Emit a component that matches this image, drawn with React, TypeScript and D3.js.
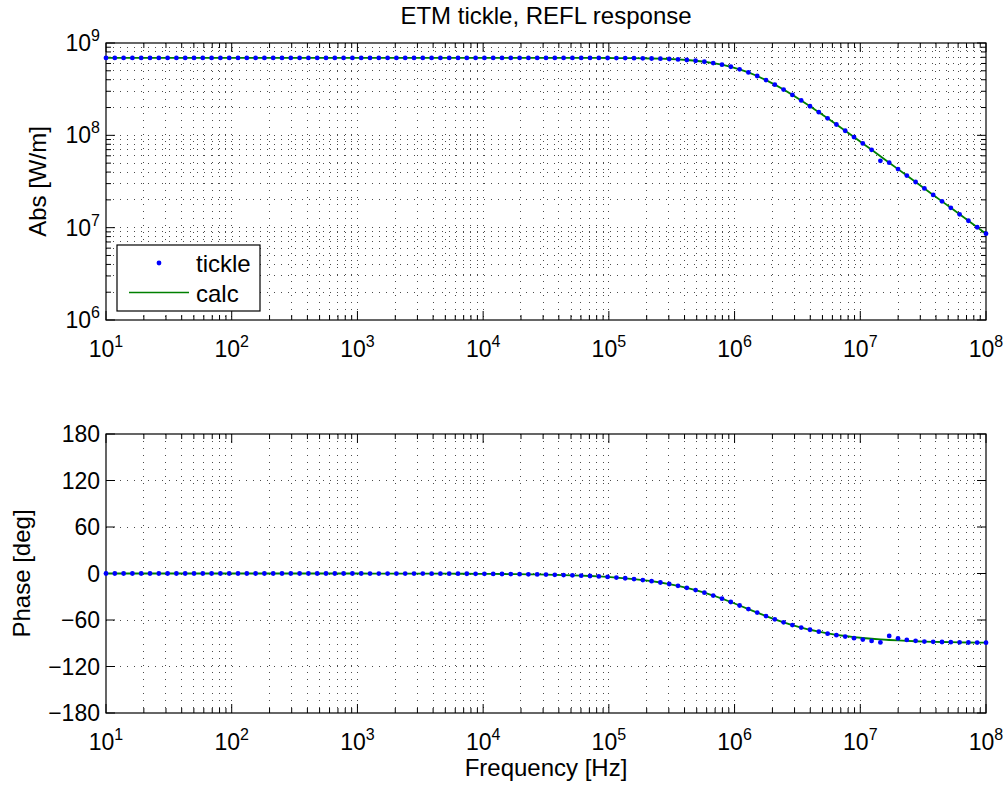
import React, { Component } from "react";
import * as d3 from "d3";

// log10 of the frequency of every sample (tickle and calc share them)
const freqExp = [
  1.00, 1.07, 1.14, 1.21, 1.28, 1.35, 1.42, 1.49, 1.56, 1.63, 1.70, 1.77, 1.84, 1.91, 1.98,
  2.05, 2.12, 2.19, 2.26, 2.33, 2.40, 2.47, 2.54, 2.61, 2.68, 2.75, 2.82, 2.89, 2.96,
  3.03, 3.10, 3.17, 3.24, 3.31, 3.38, 3.45, 3.52, 3.59, 3.66, 3.73, 3.80, 3.87, 3.94,
  4.01, 4.08, 4.15, 4.22, 4.29, 4.36, 4.43, 4.50, 4.57, 4.64, 4.71, 4.78, 4.85, 4.92, 4.99,
  5.06, 5.13, 5.20, 5.27, 5.34, 5.41, 5.48, 5.55, 5.62, 5.69, 5.76, 5.83, 5.90, 5.97,
  6.04, 6.11, 6.18, 6.25, 6.32, 6.39, 6.46, 6.53, 6.60, 6.67, 6.74, 6.81, 6.88, 6.95,
  7.02, 7.09, 7.16, 7.23, 7.30, 7.37, 7.44, 7.51, 7.58, 7.65, 7.72, 7.79, 7.86, 7.93, 8.00,
];

// |H| in W/m
const calcMag = [
  6.9e8, 6.9e8, 6.9e8, 6.9e8, 6.9e8, 6.9e8, 6.9e8, 6.9e8, 6.9e8, 6.9e8, 6.9e8, 6.9e8, 6.9e8, 6.9e8, 6.9e8,
  6.9e8, 6.9e8, 6.9e8, 6.9e8, 6.9e8, 6.9e8, 6.9e8, 6.9e8, 6.9e8, 6.9e8, 6.9e8, 6.9e8, 6.9e8, 6.9e8,
  6.9e8, 6.9e8, 6.9e8, 6.9e8, 6.9e8, 6.9e8, 6.9e8, 6.9e8, 6.9e8, 6.9e8, 6.9e8, 6.9e8, 6.9e8, 6.9e8,
  6.9e8, 6.9e8, 6.9e8, 6.9e8, 6.9e8, 6.9e8, 6.9e8, 6.9e8, 6.897e8, 6.896e8, 6.894e8, 6.892e8, 6.889e8, 6.885e8, 6.879e8,
  6.871e8, 6.860e8, 6.845e8, 6.825e8, 6.797e8, 6.759e8, 6.707e8, 6.638e8, 6.545e8, 6.424e8, 6.267e8, 6.069e8, 5.823e8, 5.528e8,
  5.186e8, 4.804e8, 4.391e8, 3.965e8, 3.540e8, 3.130e8, 2.742e8, 2.386e8, 2.065e8, 1.780e8, 1.529e8, 1.310e8, 1.121e8, 9.572e7,
  8.168e7, 6.965e7, 5.937e7, 5.056e7, 4.307e7, 3.669e7, 3.123e7, 2.659e7, 2.263e7, 1.927e7, 1.640e7, 1.396e7, 1.188e7, 1.011e7, 8.605e6,
];
const tickleMag = [
  6.9e8, 6.9e8, 6.9e8, 6.9e8, 6.9e8, 6.9e8, 6.9e8, 6.9e8, 6.9e8, 6.9e8, 6.9e8, 6.9e8, 6.9e8, 6.9e8, 6.9e8,
  6.9e8, 6.9e8, 6.9e8, 6.9e8, 6.9e8, 6.9e8, 6.9e8, 6.9e8, 6.9e8, 6.9e8, 6.9e8, 6.9e8, 6.9e8, 6.9e8,
  6.9e8, 6.9e8, 6.9e8, 6.9e8, 6.9e8, 6.9e8, 6.9e8, 6.9e8, 6.9e8, 6.9e8, 6.9e8, 6.9e8, 6.9e8, 6.9e8,
  6.9e8, 6.9e8, 6.9e8, 6.9e8, 6.9e8, 6.9e8, 6.9e8, 6.9e8, 6.897e8, 6.896e8, 6.894e8, 6.892e8, 6.889e8, 6.885e8, 6.879e8,
  6.871e8, 6.860e8, 6.845e8, 6.825e8, 6.797e8, 6.759e8, 6.707e8, 6.638e8, 6.545e8, 6.424e8, 6.267e8, 6.069e8, 5.823e8, 5.528e8,
  5.186e8, 4.804e8, 4.391e8, 3.965e8, 3.540e8, 3.130e8, 2.742e8, 2.386e8, 2.065e8, 1.780e8, 1.529e8, 1.310e8, 1.121e8, 9.572e7,
  8.168e7, 6.965e7, 5.3e7, 5.056e7, 4.307e7, 3.669e7, 3.123e7, 2.659e7, 2.263e7, 1.927e7, 1.640e7, 1.396e7, 1.188e7, 1.011e7, 8.605e6,
];

// phase in degrees
const calcDeg = [
  0, 0, 0, 0, 0, 0, 0, 0, 0, 0, 0, 0, 0, 0, 0,
  0, 0, 0, 0, 0, 0, 0, 0, 0, 0, 0, 0, 0, 0,
  0, -0.06, -0.07, -0.08, -0.09, -0.11, -0.13, -0.15, -0.18, -0.21, -0.25, -0.29, -0.34, -0.40,
  -0.47, -0.55, -0.65, -0.76, -0.89, -1.05, -1.23, -1.45, -1.70, -2.00, -2.35, -2.76, -3.24, -3.81, -4.47,
  -5.25, -6.16, -7.23, -8.47, -9.93, -11.62, -13.58, -15.85, -18.45, -21.40, -24.73, -28.42, -32.45, -36.76,
  -41.27, -45.88, -50.47, -54.92, -59.13, -63.03, -66.59, -69.77, -72.58, -75.05, -77.20, -79.06, -80.65, -82.03,
  -83.20, -84.21, -85.06, -85.80, -86.42, -86.95, -87.41, -87.79, -88.12, -88.40, -88.64, -88.84, -89.01, -89.16, -89.29,
];
const tickleDeg = [
  0, 0, 0, 0, 0, 0, 0, 0, 0, 0, 0, 0, 0, 0, 0,
  0, 0, 0, 0, 0, 0, 0, 0, 0, 0, 0, 0, 0, 0,
  0, -0.06, -0.07, -0.08, -0.09, -0.11, -0.13, -0.15, -0.18, -0.21, -0.25, -0.29, -0.34, -0.40,
  -0.47, -0.55, -0.65, -0.76, -0.89, -1.05, -1.23, -1.45, -1.70, -2.00, -2.35, -2.76, -3.24, -3.81, -4.47,
  -5.25, -6.16, -7.23, -8.47, -9.93, -11.62, -13.58, -15.85, -18.45, -21.40, -24.73, -28.42, -32.45, -36.76,
  -41.27, -45.88, -50.47, -54.92, -59.13, -63.03, -66.59, -69.77, -72.58, -75.05, -77.6, -79.6, -81.4, -83.5,
  -85.2, -87.0, -89.0, -80.5, -83.8, -85.7, -86.9, -87.79, -88.12, -88.40, -88.64, -88.84, -89.01, -89.16, -89.29,
];

const magTicks = [1e6, 1e7, 1e8, 1e9];
const degTicks = [-180, -120, -60, 0, 60, 120, 180];
const freqTicks = [1e1, 1e2, 1e3, 1e4, 1e5, 1e6, 1e7, 1e8];

class App extends Component {
  chartRef = React.createRef<HTMLDivElement>();

  componentDidMount() {
    this.drawChart();
  }

  drawChart() {
    const width = 1008;
    const height = 785;
    const left = 106;
    const right = 986;
    const font = "'Liberation Sans', Arial, Helvetica, sans-serif";
    const tickSize = 23;
    const supSize = 16;
    const labelSize = 24;

    const root = d3.select(this.chartRef.current);
    root.selectAll("*").remove();

    const svg = root
      .append("svg")
      .attr("width", width)
      .attr("height", height)
      .style("position", "absolute")
      .style("left", "0px")
      .style("top", "0px")
      .style("background", "#fff")
      .attr("font-family", font);

    const freqs = freqExp.map((e) => Math.pow(10, e));
    const x = d3.scaleLog().domain([10, 1e8]).range([left, right]);
    const xAll = x.ticks(); // 1..9 x every decade
    const isDecade = (v) => Math.abs(Math.log10(v) - Math.round(Math.log10(v))) < 1e-9;
    const xMinor = xAll.filter((v) => !isDecade(v));

    // draws grid, frame, ticks and x labels for one panel
    const panel = (yScale, yMajor, yMinor, yLabel) => {
      const [yBot, yTop] = yScale.range();
      const g = svg.append("g");

      const grid = g.append("g")
        .attr("stroke", "#000")
        .attr("stroke-width", 1)
        .attr("stroke-dasharray", "1 6")
        .attr("shape-rendering", "crispEdges")
        .attr("opacity", 0.7);
      xAll.filter((v) => v > 10 && v < 1e8).forEach((v) => {
        grid.append("line").attr("x1", x(v)).attr("x2", x(v)).attr("y1", yTop).attr("y2", yBot);
      });
      yMajor.concat(yMinor).filter((v) => yScale(v) > yTop + 0.5 && yScale(v) < yBot - 0.5).forEach((v) => {
        grid.append("line").attr("x1", left).attr("x2", right).attr("y1", yScale(v)).attr("y2", yScale(v));
      });

      const ticks = g.append("g").attr("stroke", "#000").attr("stroke-width", 1);
      freqTicks.forEach((v) => {
        ticks.append("line").attr("x1", x(v)).attr("x2", x(v)).attr("y1", yBot).attr("y2", yBot - 9);
        ticks.append("line").attr("x1", x(v)).attr("x2", x(v)).attr("y1", yTop).attr("y2", yTop + 9);
      });
      xMinor.forEach((v) => {
        ticks.append("line").attr("x1", x(v)).attr("x2", x(v)).attr("y1", yBot).attr("y2", yBot - 5);
        ticks.append("line").attr("x1", x(v)).attr("x2", x(v)).attr("y1", yTop).attr("y2", yTop + 5);
      });
      yMajor.forEach((v) => {
        ticks.append("line").attr("x1", left).attr("x2", left + 9).attr("y1", yScale(v)).attr("y2", yScale(v));
        ticks.append("line").attr("x1", right).attr("x2", right - 9).attr("y1", yScale(v)).attr("y2", yScale(v));
      });
      yMinor.forEach((v) => {
        ticks.append("line").attr("x1", left).attr("x2", left + 5).attr("y1", yScale(v)).attr("y2", yScale(v));
        ticks.append("line").attr("x1", right).attr("x2", right - 5).attr("y1", yScale(v)).attr("y2", yScale(v));
      });

      g.append("rect")
        .attr("x", left).attr("y", yTop)
        .attr("width", right - left).attr("height", yBot - yTop)
        .attr("fill", "none").attr("stroke", "#000").attr("stroke-width", 1.2);

      freqTicks.forEach((v) => {
        const t = g.append("text")
          .attr("x", x(v)).attr("y", yBot + 37)
          .attr("text-anchor", "middle").attr("font-size", tickSize);
        t.append("tspan").text("10");
        t.append("tspan").attr("dy", -10).attr("font-size", supSize).text(String(Math.round(Math.log10(v))));
      });

      g.append("text")
        .attr("transform", `translate(${yLabel.x},${(yTop + yBot) / 2}) rotate(-90)`)
        .attr("text-anchor", "middle").attr("font-size", labelSize)
        .text(yLabel.text);
      return g;
    };

    // ---- magnitude panel ----
    const yMag = d3.scaleLog().domain([1e6, 1e9]).range([320, 43]);
    const magMinor = yMag.ticks().filter((v) => !isDecade(v));
    const gMag = panel(yMag, magTicks, magMinor, { x: 46, text: "Abs [W/m]" });
    magTicks.forEach((v) => {
      const t = gMag.append("text")
        .attr("x", 100).attr("y", yMag(v) + 8)
        .attr("text-anchor", "end").attr("font-size", tickSize);
      t.append("tspan").text("10");
      t.append("tspan").attr("dy", -10).attr("font-size", supSize).text(String(Math.round(Math.log10(v))));
    });

    // ---- phase panel ----
    const yDeg = d3.scaleLinear().domain([-180, 180]).range([713, 434]);
    const gDeg = panel(yDeg, degTicks, [], { x: 30, text: "Phase [deg]" });
    degTicks.forEach((v) => {
      gDeg.append("text")
        .attr("x", 100).attr("y", yDeg(v) + 8)
        .attr("text-anchor", "end").attr("font-size", tickSize)
        .text(v < 0 ? "\u2212" + Math.abs(v) : String(v));
    });

    // ---- data ----
    const drawSeries = (yScale, calc, tickle) => {
      const line = d3.line().x((d, i) => x(freqs[i])).y((d) => yScale(d));
      svg.append("path")
        .datum(calc)
        .attr("d", line)
        .attr("fill", "none")
        .attr("stroke", "#008000")
        .attr("stroke-width", 1.8);
      svg.append("g")
        .selectAll("circle")
        .data(tickle)
        .enter()
        .append("circle")
        .attr("cx", (d, i) => x(freqs[i]))
        .attr("cy", (d) => yScale(d))
        .attr("r", 2.4)
        .attr("fill", "#0000ff");
    };
    drawSeries(yMag, calcMag, tickleMag);
    drawSeries(yDeg, calcDeg, tickleDeg);

    // ---- legend ----
    const leg = svg.append("g");
    leg.append("rect")
      .attr("x", 117).attr("y", 245).attr("width", 143).attr("height", 66)
      .attr("fill", "#fff").attr("stroke", "#000").attr("stroke-width", 1.2);
    leg.append("circle").attr("cx", 159).attr("cy", 263).attr("r", 2.4).attr("fill", "#0000ff");
    leg.append("line").attr("x1", 129).attr("x2", 189).attr("y1", 292.5).attr("y2", 292.5)
      .attr("stroke", "#008000").attr("stroke-width", 1.5);
    leg.append("text").attr("x", 196).attr("y", 271.5).attr("font-size", labelSize).text("tickle");
    leg.append("text").attr("x", 196).attr("y", 301.5).attr("font-size", labelSize).text("calc");

    // ---- titles ----
    svg.append("text")
      .attr("x", (left + right) / 2).attr("y", 24)
      .attr("text-anchor", "middle").attr("font-size", labelSize)
      .text("ETM tickle, REFL response");
    svg.append("text")
      .attr("x", (left + right) / 2).attr("y", 776)
      .attr("text-anchor", "middle").attr("font-size", labelSize)
      .text("Frequency [Hz]");
  }

  render() {
    return <div className="bode_chart" ref={this.chartRef}></div>;
  }
}

export default App;
